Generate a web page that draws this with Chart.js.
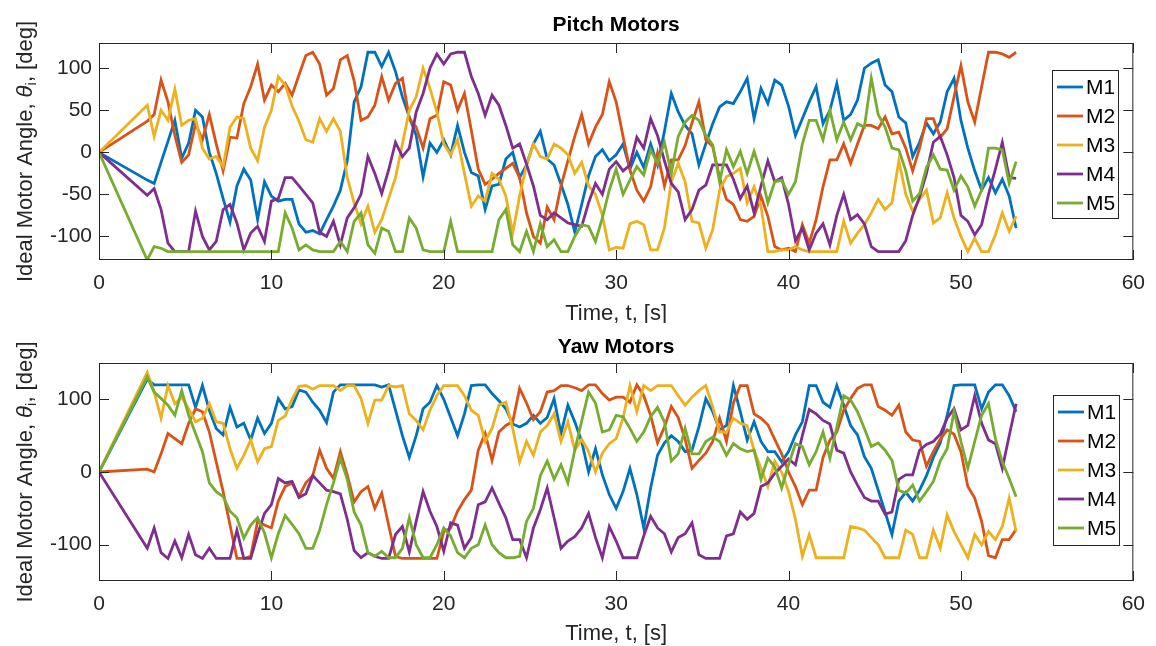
<!DOCTYPE html>
<html>
<head>
<meta charset="utf-8">
<script src="https://cdn.jsdelivr.net/npm/chart.js@4.4.1/dist/chart.umd.min.js"></script>
<style>
  body { margin: 0; background: #fff; }
  .plot { position: absolute; left: 0; width: 1156px; height: 323px; }
</style>
</head>
<body>
<div class="plot" style="top:0"><canvas id="pitch" width="1156" height="323"></canvas></div>
<div class="plot" style="top:323px"><canvas id="yaw" width="1156" height="323"></canvas></div>
<script>
// sample times, s
var time = [0,
  2.8, 3.2, 3.6, 4, 4.4, 4.8, 5.2, 5.6, 6, 6.4, 6.8, 7.2, 7.6, 8, 8.4, 8.8, 9.2, 9.6, 10, 10.4, 10.8,
  11.2, 11.6, 12, 12.4, 12.8, 13.2, 13.6, 14, 14.4, 14.8, 15.2, 15.6, 16, 16.4, 16.8, 17.2, 17.6, 18, 18.4, 18.8, 19.2, 19.6, 20, 20.4, 20.8, 21.2, 21.6, 22,
  22.4, 22.8, 23.2, 23.6, 24, 24.4, 24.8, 25.2, 25.6, 26, 26.4, 26.8, 27.2, 27.6, 28, 28.4, 28.8, 29.2, 29.6, 30, 30.4, 30.8, 31.2, 31.6, 32, 32.4,
  32.8, 33.2, 33.6, 34, 34.4, 34.8, 35.2, 35.6, 36, 36.4, 36.8, 37.2, 37.6, 38, 38.4, 38.8, 39.2, 39.6, 40, 40.4, 40.8, 41.2, 41.6, 42, 42.4, 42.8, 43.2,
  43.6, 44, 44.4, 44.8, 45.2, 45.6, 46, 46.4, 46.8, 47.2, 47.6, 48, 48.4, 48.8, 49.2, 49.6, 50, 50.4, 50.8, 51.2, 51.6, 52, 52.4, 52.8, 53.2];

var motorNames = ['M1', 'M2', 'M3', 'M4', 'M5'];
var xTicks = [0, 10, 20, 30, 40, 50, 60];
var pitchTicks = [-100, -50, 0, 50, 100];
var yawTicks = [-100, 0, 100];

// pitch motors, deg
var pitchM1 = [0,
  -33, -37, -12, 13, 38, -7, 11, 50, 42, 0, -25, -55, -83, -40, -20, -33, -80, -35, -52, -58, -56,
  -56, -85, -95, -93, -97, -80, -64, -45, -10, 60, 78, 119, 119, 102, 119, 96, 66, 42, 20, -29, 11, 0, 15, -3, 32, 0, -24, -28,
  -68, -40, -38, -8, 0, -30, -15, 10, 25, -8, -15, -38, -62, -95, -62, -28, -5, 3, -10, -3, 10, -20, 0, -18, 10, -15, 25,
  70, 48, 32, 22, -15, 10, 34, 54, 60, 58, 72, 88, 40, 76, 58, 86, 80, 55, 20, 40, 60, 78, 34, 50, 82, 38, 45,
  62, 100, 106, 110, 80, 72, 42, 35, -5, 12, 35, 22, 36, 72, 88, 38, 5, -22, -45, -30, -48, -32, -52, -90];
var pitchM2 = [0,
  37, 45, 86, 60, 20, -12, -3, 34, 15, 45, 10, -22, 18, 17, 58, 78, 105, 62, 80, 72, 82,
  68, 92, 115, 119, 105, 68, 76, 110, 115, 85, 38, 42, 56, 90, 62, 82, 88, 40, 30, 5, 40, 44, 84, 80, 50, 70, 26, -20,
  -38, -32, -25, -19, -13, -30, -72, -100, -108, -65, -80, -40, -10, 19, 45, 10, 30, 45, 84, 60, 19, -21, -45, -58, -41, -1,
  -40, -9, -9, 8, 35, 60, 15, 7, -30, -56, -62, -80, -82, -76, -52, -76, -112, -116, -114, -118, -86, -108, -80, -41, -9, -9, 10,
  -13, 10, 32, 32, 28, 42, 22, 24, 5, -22, 5, 40, 40, 18, 28, 66, 103, 60, 36, 78, 119, 119, 117, 113, 119];
var pitchM3 = [0,
  56, 19, 50, 38, 75, 32, 38, 40, 5, -8, -5, -17, 30, 42, 40, 5, -10, 30, 50, 90, 80,
  55, 37, 15, 12, 40, 25, 40, 25, -30, -60, -85, -64, -95, -80, -55, -30, 10, 50, 66, 100, 76, 48, 10, -3, 15, -25, -64, -52,
  -58, -25, -32, -52, -96, -52, -15, 10, -5, -8, 10, 5, -3, -25, -12, -40, -50, -75, -116, -113, -114, -85, -82, -86, -116, -116,
  -90, -35, -13, -35, -82, -84, -114, -92, -45, -29, -25, -19, -60, -41, -64, -118, -118, -116, -116, -112, -116, -118, -118, -118, -118, -118, -82,
  -108, -96, -86, -72, -56, -68, -60, -10, -50, -70, -56, -45, -84, -78, -48, -78, -100, -118, -102, -118, -118, -98, -72, -94, -76];
var pitchM4 = [0,
  -51, -43, -68, -108, -118, -118, -118, -70, -100, -116, -106, -68, -62, -84, -116, -96, -88, -106, -58, -55, -30,
  -30, -40, -50, -60, -95, -100, -82, -110, -78, -66, -50, -5, -25, -49, -21, 12, -5, 5, 48, 70, 100, 117, 105, 117, 119, 119, 90, 70,
  44, 68, 56, 32, 5, 10, -14, -40, -75, -80, -72, -78, -84, -86, -88, -60, -37, -50, -20, -11, -22, -15, 18, 5, 40, 20,
  -10, -37, -47, -80, -68, -45, -39, -15, -15, -15, -32, -55, -40, -72, -40, -10, -35, -30, -62, -105, -90, -116, -96, -85, -110, -75, -50,
  -80, -74, -85, -112, -118, -118, -118, -118, -105, -75, -53, -25, 12, 19, -3, -30, -75, -82, -98, -86, -50, -20, 12, -30, -31];
var pitchM5 = [0,
  -128, -112, -114, -118, -118, -118, -118, -118, -118, -118, -118, -118, -118, -118, -118, -118, -118, -118, -118, -118, -72,
  -90, -116, -110, -116, -118, -118, -118, -106, -118, -82, -72, -110, -120, -90, -94, -118, -118, -78, -90, -116, -118, -118, -118, -82, -118, -118, -118, -118,
  -118, -118, -80, -68, -110, -118, -94, -118, -85, -112, -104, -118, -118, -100, -86, -88, -106, -78, -45, -20, -50, -33, -17, -27, 3, -13,
  12, -25, 19, 36, 44, 38, 20, 9, -35, 3, -17, 1, -25, 1, -25, -60, -35, -33, -50, -35, 10, 38, 38, 15, 50, 15, 36,
  15, 34, 30, 88, 45, 30, 5, 3, -22, -58, -49, -18, -3, -20, -21, -45, -28, -41, -64, -45, 5, 5, 3, -37, -11];

// yaw motors, deg
var yawM1 = [0,
  128, 120, 120, 120, 120, 120, 120, 89, 119, 85, 60, 51, 89, 62, 67, 44, 74, 53, 67, 101, 87,
  90, 113, 110, 96, 85, 68, 110, 120, 120, 120, 120, 120, 120, 117, 120, 85, 50, 20, 50, 87, 96, 119, 100, 75, 50, 80, 119, 120,
  120, 108, 98, 87, 66, 62, 67, 78, 67, 75, 101, 53, 92, 69, 42, 0, 32, -4, -31, -50, -27, 5, -31, -77, -22, 23,
  40, 50, 42, 28, 30, 62, 101, 83, 58, 64, 119, 83, 44, 69, 42, 28, 28, 14, 28, 51, 69, 119, 119, 96, 89, 119, 92,
  64, 51, 21, 5, -25, -55, -86, -40, -28, -40, -25, -5, 20, 40, 78, 119, 120, 120, 120, 87, 110, 120, 120, 105, 83];
var yawM2 = [0,
  4, 0, 25, 53, 46, 39, 67, 87, 83, 55, 14, -27, -73, -119, -119, -116, -68, -73, -77, -40, -20,
  -15, -34, -15, -5, 30, 5, -9, 28, -4, -41, -27, -20, -50, -29, -73, -116, -119, -119, -119, -119, -119, -119, -82, -77, -54, -38, -25, 30,
  53, 16, 55, 64, 69, 115, 95, 72, 83, 110, 112, 119, 119, 116, 112, 120, 120, 108, 99, 103, 103, 96, 120, 105, 78, 40,
  62, 90, 75, 45, 5, 16, 26, 42, 74, 42, 95, 119, 119, 80, 74, 65, 45, 25, 0, -20, -45, -25, -25, 20, 44, 55, 85,
  101, 115, 120, 120, 90, 85, 78, 92, 55, 44, 42, 8, 28, 45, 58, 52, 28, -20, -36, -68, -115, -118, -93, -93, -79];
var yawM3 = [0,
  137, 110, 74, 119, 94, 103, 87, 69, 74, 94, 69, 67, 32, 5, 23, 44, 14, 32, 35, 71, 77,
  100, 118, 119, 114, 119, 119, 119, 112, 119, 119, 101, 67, 99, 99, 119, 117, 119, 80, 71, 58, 85, 105, 119, 119, 119, 105, 85, 78,
  42, 60, 92, 96, 60, 14, 42, 23, 55, 64, 80, 42, 69, 30, 45, 28, 0, 26, 39, 46, 74, 119, 83, 119, 112, 119,
  119, 119, 105, 92, 103, 112, 119, 90, 55, 55, 74, 67, 64, 30, 5, -20, 15, 0, -27, -65, -116, -86, -118, -118, -118, -118, -118,
  -75, -77, -80, -90, -100, -118, -118, -118, -80, -86, -118, -118, -80, -105, -59, -82, -100, -118, -86, -100, -82, -93, -75, -36, -82];
var yawM4 = [0,
  -105, -77, -111, -119, -95, -118, -86, -114, -119, -105, -119, -119, -119, -80, -119, -119, -86, -57, -45, -9, -15,
  -13, -35, -30, -5, -15, -25, -27, -30, -65, -108, -118, -111, -116, -119, -119, -86, -75, -110, -68, -27, -54, -75, -109, -70, -73, -105, -90, -45,
  -41, -22, -43, -63, -93, -93, -118, -77, -52, -22, -63, -105, -95, -89, -77, -57, -90, -118, -75, -95, -118, -118, -118, -88, -61, -77,
  -85, -110, -90, -85, -70, -114, -119, -119, -119, -88, -85, -55, -65, -57, -20, -15, -2, 8, 18, 10, 50, 86, 80, 71, 66, 30, 26,
  0, -18, -35, -40, -40, -58, -55, -10, -4, -4, 30, 38, 42, 52, 74, 87, 58, 64, 105, 67, 44, 39, 5, 50, 94];
var yawM5 = [0,
  131, 110, 101, 92, 78, 112, 78, 53, 28, -15, -27, -34, -54, -63, -91, -73, -63, -84, -118, -85, -60,
  -72, -85, -105, -105, -80, -45, -15, 19, -10, -55, -73, -111, -116, -109, -118, -118, -105, -63, -100, -118, -118, -100, -77, -88, -111, -118, -105, -100,
  -73, -100, -111, -118, -118, -116, -68, -50, -5, 15, -10, 10, -15, 30, 70, 110, 95, 55, 58, 78, 76, 60, 42, 55, 76, 89,
  69, 15, 25, 60, 25, 25, 42, 48, 42, 23, 39, 32, 28, 30, -10, 19, 7, -22, 10, 39, 35, 10, 28, 55, 19, 62, 105,
  99, 83, 60, 35, 40, 30, 16, -25, -29, -18, -40, -27, -13, 15, 32, 83, 42, 5, 42, 78, 94, 46, 14, -9, -34];

var colors = ['#0072BD', '#D95319', '#EDB120', '#7E2F8E', '#77AC30'];
var family = '"Liberation Sans", Arial, Helvetica, sans-serif';
var axisColor = '#262626';

function toPoints(values) {
    return values.map(function (v, i) {
        return { x: time[i], y: v };
    });
}

function makeDatasets(series) {
    return series.map(function (values, i) {
        return {
            label: motorNames[i],
            data: toPoints(values),
            borderColor: colors[i],
            backgroundColor: colors[i],
            borderWidth: 2.8,
            pointRadius: 0,
            tension: 0,
            order: series.length - i  // last motor drawn on top, like MATLAB
        };
    });
}

// box, inward ticks, titles and the legend drawn MATLAB style
var matlabFrame = {
    id: 'matlabFrame',
    afterDraw: function (chart, args, opts) {
        var ctx = chart.ctx, a = chart.chartArea;
        var xs = chart.scales.x, ys = chart.scales.y;
        ctx.save();
        ctx.strokeStyle = axisColor;
        ctx.lineWidth = 1;
        ctx.strokeRect(a.left + 0.5, a.top + 0.5, a.right - a.left - 1, a.bottom - a.top - 1);
        ctx.beginPath();
        xs.ticks.forEach(function (t) {
            var px = Math.round(xs.getPixelForValue(t.value)) + 0.5;
            ctx.moveTo(px, a.bottom); ctx.lineTo(px, a.bottom - 10);
            ctx.moveTo(px, a.top); ctx.lineTo(px, a.top + 10);
        });
        ys.ticks.forEach(function (t) {
            var py = Math.round(ys.getPixelForValue(t.value)) + 0.5;
            ctx.moveTo(a.left, py); ctx.lineTo(a.left + 10, py);
            ctx.moveTo(a.right, py); ctx.lineTo(a.right - 10, py);
        });
        ctx.stroke();

        var cx = (a.left + a.right) / 2;
        ctx.textAlign = 'center';
        ctx.textBaseline = 'middle';
        ctx.fillStyle = '#000';
        ctx.font = 'bold 21px ' + family;
        ctx.fillText(opts.title, cx, opts.titleY);

        ctx.fillStyle = axisColor;
        ctx.font = '22px ' + family;
        ctx.fillText('Time, t, [s]', cx, opts.xLabelY);

        // y label with italic theta and subscript i
        var parts = [
            { text: 'Ideal Motor Angle, ', font: '22px ' + family, dy: 0 },
            { text: 'θ', font: 'italic 22px ' + family, dy: 0 },
            { text: 'i', font: '15px ' + family, dy: 6 },
            { text: ', [deg]', font: '22px ' + family, dy: 0 }
        ];
        var total = 0;
        parts.forEach(function (p) {
            ctx.font = p.font;
            p.w = ctx.measureText(p.text).width;
            total += p.w;
        });
        ctx.save();
        ctx.translate(opts.yLabelX, (a.top + a.bottom) / 2);
        ctx.rotate(-Math.PI / 2);
        ctx.textAlign = 'left';
        var pos = -total / 2;
        parts.forEach(function (p) {
            ctx.font = p.font;
            ctx.fillText(p.text, pos, p.dy);
            pos += p.w;
        });
        ctx.restore();

        var L = opts.legend;
        ctx.fillStyle = '#fff';
        ctx.fillRect(L.x, L.y, L.w, L.h);
        ctx.strokeStyle = axisColor;
        ctx.lineWidth = 1;
        ctx.strokeRect(L.x + 0.5, L.y + 0.5, L.w, L.h);
        ctx.font = '21px ' + family;
        ctx.textAlign = 'left';
        chart.data.datasets.forEach(function (ds, i) {
            var cy = L.y + 17 + i * 29;
            ctx.strokeStyle = ds.borderColor;
            ctx.lineWidth = 2.8;
            ctx.beginPath();
            ctx.moveTo(L.x + 5, cy);
            ctx.lineTo(L.x + 31, cy);
            ctx.stroke();
            ctx.fillStyle = '#000';
            ctx.fillText(ds.label, L.x + 34, cy + 1);
        });
        ctx.restore();
    }
};

function makeChart(id, series, yMin, yMax, yTicks, frame) {
    var ctx = document.getElementById(id).getContext('2d');
    return new Chart(ctx, {
        type: 'line',
        data: { datasets: makeDatasets(series) },
        options: {
            responsive: false,
            animation: false,
            layout: { padding: { top: frame.top, right: 16, left: 0, bottom: 0 } },
            plugins: {
                legend: { display: false },
                tooltip: { enabled: false },
                matlabFrame: frame
            },
            scales: {
                x: {
                    type: 'linear',
                    min: 0,
                    max: 60,
                    afterBuildTicks: function (s) {
                        s.ticks = xTicks.map(function (v) { return { value: v }; });
                    },
                    afterFit: function (s) { s.height = frame.xHeight; },
                    grid: { display: false, drawTicks: false, tickLength: 0 },
                    border: { display: false },
                    ticks: { color: axisColor, padding: 11, maxRotation: 0, font: { size: 21, family: family } }
                },
                y: {
                    type: 'linear',
                    min: yMin,
                    max: yMax,
                    afterBuildTicks: function (s) {
                        s.ticks = yTicks.map(function (v) { return { value: v }; });
                    },
                    afterFit: function (s) { s.width = 99; },
                    grid: { display: false, drawTicks: false, tickLength: 0 },
                    border: { display: false },
                    ticks: { color: axisColor, padding: 7, font: { size: 21, family: family } }
                }
            }
        },
        plugins: [matlabFrame]
    });
}

window.onload = function () {
    window.pitchChart = makeChart('pitch', [pitchM1, pitchM2, pitchM3, pitchM4, pitchM5], -128, 130, pitchTicks, {
        title: 'Pitch Motors', titleY: 25, xLabelY: 314, yLabelX: 26,
        top: 43, xHeight: 63,
        legend: { x: 1052, y: 70, w: 66, h: 148 }
    });
    window.yawChart = makeChart('yaw', [yawM1, yawM2, yawM3, yawM4, yawM5], -150, 150, yawTicks, {
        title: 'Yaw Motors', titleY: 24, xLabelY: 311, yLabelX: 26,
        top: 40, xHeight: 65,
        legend: { x: 1053, y: 72, w: 66, h: 150 }
    });
};
</script>
</body>
</html>
